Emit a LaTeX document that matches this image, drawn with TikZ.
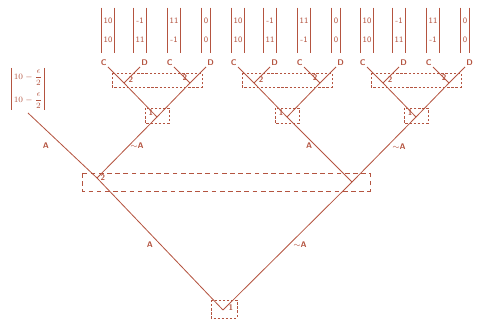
\documentclass[tikz,border=0pt]{standalone}
\usepackage{amsmath,amssymb}
\usepackage{tikz}
\usetikzlibrary{positioning,calc}
\definecolor{inkred}{RGB}{180,84,64}

\begin{document}
\begin{tikzpicture}[
  x=0.03cm, y=-0.03cm,
  font=\scriptsize\sffamily,
  every node/.style={text=inkred},
  edge/.style={draw=inkred, line width=0.7pt},
  info/.style={draw=inkred, line width=0.5pt, dash pattern=on 2pt off 1.5pt},
  biginfo/.style={draw=inkred, line width=0.6pt, dash pattern=on 4pt off 3pt},
  pay/.style={align=center, minimum height=1.35cm, inner xsep=1.5pt, inner ysep=0pt},
  bar/.style={draw=inkred, line width=0.8pt},
  lbl/.style={font=\scriptsize\sffamily\bfseries, inner sep=1pt},
]
\useasboundingbox (0,0) rectangle (487,321);

%% --- first stage ---
\coordinate (r)  at (223,310);
\coordinate (pl) at (97,178);
\coordinate (pr) at (352,182);
\coordinate (lf) at (28,113);
\coordinate (s1) at (157,117);
\coordinate (s2) at (287,117);
\coordinate (s3) at (416,117);

\draw[edge] (r) -- (pl) -- (lf);
\draw[edge] (r) -- (pr) -- (s3);
\draw[edge] (pl) -- (s1);
\draw[edge] (pr) -- (s2);

% edge labels
\node[lbl] (lA1) at (150,245) {A};
\node[lbl] (lN1) at (300,245) {$\sim$A};
\node[lbl] (lA2) at (46,146) {A};
\node[lbl] (lN2) at (137,146) {$\sim$A};
\node[lbl] (lA3) at (309,146) {A};
\node[lbl] (lN3) at (399,147) {$\sim$A};

% information sets
\draw[info] (211,300) rectangle (237,318);
\node[lbl] (n1) at (231,308) {1};
\draw[biginfo] (82,173) rectangle (370,191);
\node[lbl] (n2) at (103,178) {2};

% leaf after A, A
\node[pay, minimum height=1.25cm, inner xsep=2pt] (ml) at (28,89)
  {$10-\dfrac{\epsilon}{2}$\\[5pt]$10-\dfrac{\epsilon}{2}$};
\draw[bar] (ml.north west) -- (ml.south west) (ml.north east) -- (ml.south east);

%% --- second stage: three copies ---
\foreach \i/\sx in {1/157,2/287,3/416}{
  \coordinate (a\i)  at (\sx-33,83);
  \coordinate (b\i)  at (\sx+33,83);
  \coordinate (ac\i) at (\sx-49,67);
  \coordinate (ad\i) at (\sx-17,67);
  \coordinate (bc\i) at (\sx+17,67);
  \coordinate (bd\i) at (\sx+49,67);
  \draw[edge] (s\i) -- (a\i) -- (ac\i);
  \draw[edge] (s\i) -- (b\i) -- (bd\i);
  \draw[edge] (a\i) -- (ad\i);
  \draw[edge] (b\i) -- (bc\i);
  % moves
  \node[lbl, above left=0pt and 0pt of ac\i]  (lac\i) {C};
  \node[lbl, above right=0pt and 0pt of ad\i] (lad\i) {D};
  \node[lbl, above left=0pt and 0pt of bc\i]  (lbc\i) {C};
  \node[lbl, above right=0pt and 0pt of bd\i] (lbd\i) {D};
  % information sets
  \draw[info] (\sx-45,73) rectangle (\sx+45,87);
  \node[lbl] (t\i a) at (\sx-26,80) {2};
  \node[lbl] (t\i b) at (\sx+28,78) {2};
  \draw[info] (\sx-12,108) rectangle (\sx+12,123);
  \node[lbl] (o\i) at (\sx-6,113) {1};
  % payoffs
  \node[pay, above=0.42cm of ac\i] (mac\i) {10\\[8pt]10};
  \node[pay, above=0.42cm of ad\i] (mad\i) {-1\\[8pt]11};
  \node[pay, above=0.42cm of bc\i] (mbc\i) {11\\[8pt]-1};
  \node[pay, above=0.42cm of bd\i] (mbd\i) {0\\[8pt]0};
  \foreach \m in {mac\i,mad\i,mbc\i,mbd\i}{
    \draw[bar] (\m.north west) -- (\m.south west) (\m.north east) -- (\m.south east);
  }
}

\end{tikzpicture}
\end{document}
